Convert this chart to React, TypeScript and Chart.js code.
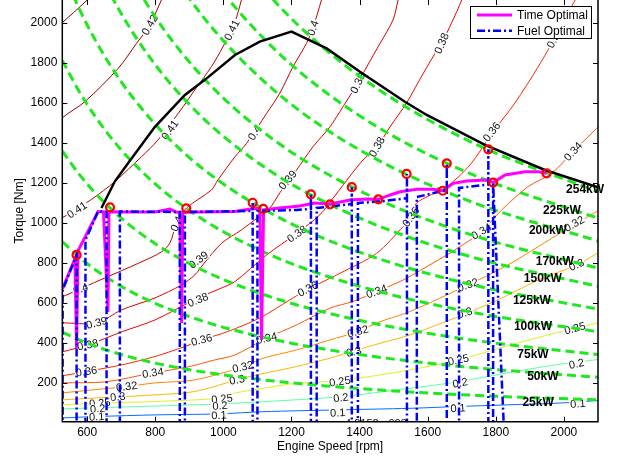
import { useEffect, useRef } from "react";
import { Chart, registerables } from "chart.js";

Chart.register(...registerables);

type Pt = [number, number];

const FONT = '"Liberation Sans", Arial, Helvetica, sans-serif';

const xTicks = [600, 800, 1000, 1200, 1400, 1600, 1800, 2000];
const yTicks = [200, 400, 600, 800, 1000, 1200, 1400, 1600, 1800, 2000];

// Max torque curve [rpm, Nm]
const maxTorqueCurve: Pt[] = [
  [642, 1074], [681, 1206], [720, 1297], [799, 1480], [887, 1639], [951, 1722],
  [1034, 1839], [1107, 1906], [1200, 1956], [1303, 1872], [1401, 1755], [1533, 1605],
  [1597, 1539], [1768, 1389], [1944, 1264], [2100, 1177],
];

// Time optimal trajectory
const timeOptimal: Pt[] = [
  [527, 668], [564, 819], [569, 374], [573, 859], [632, 1056], [648, 1054], [661, 554],
  [664, 1054], [799, 1054], [843, 1069], [860, 1054], [872, 1052], [877, 499], [881, 1052],
  [1034, 1056], [1092, 1072], [1107, 1069], [1112, 414], [1118, 1064], [1165, 1074],
  [1224, 1084], [1268, 1099], [1313, 1094], [1372, 1114], [1421, 1119], [1455, 1117],
  [1490, 1139], [1519, 1155], [1568, 1167], [1616, 1167], [1644, 1160], [1675, 1197],
  [1714, 1209], [1773, 1214], [1792, 1201], [1827, 1239], [1886, 1255], [1925, 1255],
  [1949, 1247],
];

// Fuel optimal trajectory
const fuelOptimal: Pt[] = [
  [528, -40], [528, 664], [569, 839], [569, -40], [595, -40], [595, 914], [632, 1056],
  [657, 1056], [657, -40], [696, -40], [696, 1056], [872, 1054], [872, -40], [887, -40],
  [887, 1054], [1086, 1059], [1086, 1099], [1086, -40], [1100, -40], [1100, 1059],
  [1215, 1064], [1257, 1069], [1257, 1142], [1257, -40], [1274, -40], [1274, 1074],
  [1313, 1081], [1377, 1094], [1377, 1178], [1377, -40], [1395, -40], [1395, 1099],
  [1460, 1106], [1539, 1123], [1539, 1244], [1539, -40], [1568, -40], [1568, 1129],
  [1646, 1160], [1656, 1164], [1656, 1297], [1656, -40], [1692, -40], [1692, 1174],
  [1778, 1191], [1778, 1367], [1778, -40], [1792, -40], [1792, 1199], [1824, -40],
];

// Shift points (red circles)
const shiftPoints: Pt[] = [
  [569, 839], [667, 1077], [891, 1072], [1086, 1100], [1117, 1069], [1257, 1142],
  [1313, 1092], [1377, 1178], [1455, 1117], [1538, 1244], [1644, 1160], [1656, 1297],
  [1778, 1367], [1792, 1201], [1949, 1247],
];

// Constant power lines
const powerRpm = [527, 575, 625, 700, 800, 900, 1000, 1150, 1300, 1500, 1750, 2100];
const power254 = [4602, 4218, 3881, 3465, 3032, 2695, 2425, 2109, 1866, 1617, 1386, 1155];
const power225 = [4077, 3737, 3438, 3069, 2686, 2387, 2149, 1868, 1653, 1432, 1228, 1023];
const power200 = [3624, 3321, 3056, 2728, 2387, 2122, 1910, 1661, 1469, 1273, 1091, 909];
const power170 = [3080, 2823, 2597, 2319, 2029, 1804, 1623, 1412, 1249, 1082, 928, 773];
const power150 = [2718, 2491, 2292, 2046, 1790, 1592, 1432, 1245, 1102, 955, 819, 682];
const power125 = [2265, 2076, 1910, 1705, 1492, 1326, 1194, 1038, 918, 796, 682, 568];
const power100 = [1812, 1661, 1528, 1364, 1194, 1061, 955, 830, 735, 637, 546, 455];
const power75 = [1359, 1246, 1146, 1023, 895, 796, 716, 623, 551, 477, 409, 341];
const power50 = [906, 830, 764, 682, 597, 531, 477, 415, 367, 318, 273, 227];
const power25 = [453, 415, 382, 341, 298, 265, 239, 208, 184, 159, 136, 114];
const powerLines = [power254, power225, power200, power170, power150, power125, power100, power75, power50, power25];

const powerLabels: [string, number, number][] = [
  ["254kW", 2062, 1164], ["225kW", 1994, 1059], ["200kW", 1953, 959], ["170kW", 1973, 804],
  ["150kW", 1938, 719], ["125kW", 1906, 609], ["100kW", 1909, 479], ["75kW", 1909, 339],
  ["50kW", 1938, 229], ["25kW", 1924, 99],
];

// Efficiency contours [rpm, Nm]
const eff043: Pt[] = [[520, 1990], [600, 2114], [615, 2150]];
const eff042: Pt[] = [[520, 1490], [525, 1522], [593, 1605], [691, 1772], [745, 1897], [784, 1989], [818, 2114], [830, 2160]];
const eff041: Pt[] = [[515, 1018], [526, 1024], [613, 1117], [681, 1206], [760, 1331], [808, 1414], [882, 1581], [916, 1664], [965, 1781], [999, 1881], [1034, 2005], [1053, 2114], [1060, 2160]];
const eff040: Pt[] = [[515, 622], [526, 629], [652, 724], [750, 797], [819, 855], [843, 899], [863, 999], [892, 1074], [965, 1164], [984, 1214], [1034, 1330], [1068, 1397], [1127, 1547], [1166, 1649], [1204, 1779], [1244, 1897], [1263, 1974], [1288, 2114], [1296, 2160]];
const eff039: Pt[] = [[515, 495], [526, 499], [628, 499], [701, 564], [799, 624], [877, 689], [916, 739], [940, 790], [995, 898], [1053, 964], [1092, 1014], [1132, 1064], [1166, 1150], [1215, 1264], [1263, 1380], [1313, 1480], [1351, 1580], [1395, 1699], [1421, 1780], [1460, 1897], [1498, 2014], [1513, 2114], [1520, 2160]];
const eff038: Pt[] = [[515, 350], [526, 354], [602, 389], [701, 454], [799, 514], [926, 624], [995, 674], [1034, 706], [1127, 839], [1215, 947], [1283, 1039], [1327, 1134], [1372, 1234], [1410, 1314], [1451, 1379], [1489, 1479], [1538, 1599], [1571, 1699], [1615, 1829], [1641, 1899], [1670, 1999], [1700, 2114], [1710, 2160]];
const eff036: Pt[] = [[515, 228], [526, 234], [598, 256], [701, 289], [799, 331], [887, 381], [936, 414], [1013, 456], [1107, 524], [1195, 614], [1244, 664], [1342, 747], [1450, 847], [1528, 981], [1551, 1024], [1567, 1098], [1656, 1181], [1724, 1289], [1790, 1450], [1856, 1599], [1924, 1779], [1964, 1897], [2033, 2114], [2050, 2160]];
const eff034: Pt[] = [[515, 195], [526, 199], [652, 204], [793, 249], [896, 279], [975, 314], [1034, 339], [1127, 423], [1215, 489], [1313, 573], [1380, 606], [1450, 656], [1528, 714], [1631, 814], [1680, 864], [1758, 956], [1817, 1064], [1895, 1181], [1964, 1247], [2027, 1356], [2096, 1472], [2110, 1495]];
const eff032: Pt[] = [[515, 146], [526, 149], [716, 181], [799, 199], [916, 214], [1057, 279], [1116, 322], [1215, 364], [1313, 414], [1395, 456], [1460, 505], [1548, 556], [1718, 689], [1827, 781], [1925, 881], [2000, 960], [2110, 1070]];
const eff030: Pt[] = [[515, 110], [526, 114], [686, 129], [799, 139], [916, 156], [1039, 214], [1097, 239], [1215, 281], [1313, 323], [1377, 356], [1460, 397], [1548, 439], [1714, 547], [1827, 631], [1925, 714], [2037, 789], [2110, 860]];
const eff025: Pt[] = [[515, 86], [526, 89], [637, 98], [799, 106], [990, 123], [1034, 148], [1116, 172], [1215, 197], [1342, 210], [1460, 239], [1548, 264], [1690, 314], [1827, 381], [1974, 448], [2110, 503]];
const eff020: Pt[] = [[515, 67], [526, 69], [813, 84], [990, 94], [1116, 105], [1342, 130], [1548, 172], [1690, 205], [1827, 247], [1974, 289], [2110, 318]];
const eff010: Pt[] = [[515, 23], [526, 24], [632, 31], [799, 39], [984, 44], [1116, 55], [1333, 64], [1548, 72], [1690, 81], [1827, 89], [1974, 97], [2110, 112]];

const contourLevels = [0.43, 0.42, 0.41, 0.4, 0.39, 0.38, 0.36, 0.34, 0.32, 0.3, 0.25, 0.2, 0.1];
const contourLines = [eff043, eff042, eff041, eff040, eff039, eff038, eff036, eff034, eff032, eff030, eff025, eff020, eff010];
const contourColors = [
  "rgb(128,0,0)", "rgb(151,0,0)", "rgb(175,0,0)", "rgb(199,0,0)", "rgb(222,0,0)", "rgb(246,0,0)",
  "rgb(255,38,0)", "rgb(255,86,0)", "rgb(255,133,0)", "rgb(255,181,0)", "rgb(222,240,30)",
  "rgb(92,255,163)", "rgb(0,110,255)",
];

// Contour labels: text, rpm, Nm, angle (deg)
const contourLabels: [string, number, number, number][] = [
  ["0.42", 784, 1989, -60], ["0.41", 570, 1064, -33], ["0.41", 843, 1464, -55], ["0.41", 1025, 1964, -63],
  ["0.4", 581, 669, -20], ["0.4", 863, 994, -65], ["0.4", 1092, 1449, -57], ["0.4", 1263, 1974, -70],
  ["0.39", 628, 499, -15], ["0.39", 927, 814, -38], ["0.39", 1189, 1214, -50], ["0.39", 1395, 1699, -65],
  ["0.38", 602, 389, -12], ["0.38", 925, 614, -22], ["0.38", 1216, 944, -35], ["0.38", 1451, 1379, -60], ["0.38", 1641, 1897, -67],
  ["0.36", 598, 256, -8], ["0.36", 936, 414, -15], ["0.36", 1248, 669, -27], ["0.36", 1551, 1029, -55], ["0.36", 1788, 1454, -52], ["0.36", 1973, 1924, -62],
  ["0.34", 793, 249, -8], ["0.34", 1127, 422, -12], ["0.34", 1450, 656, -20], ["0.34", 1758, 956, -30], ["0.34", 2027, 1356, -47],
  ["0.32", 716, 181, -7], ["0.32", 1057, 279, -13], ["0.32", 1395, 456, -15], ["0.32", 1718, 689, -20], ["0.32", 2030, 994, -30],
  ["0.3", 690, 129, -6], ["0.3", 1040, 214, -10], ["0.3", 1383, 354, -12], ["0.3", 1709, 549, -17], ["0.3", 2037, 789, -25],
  ["0.25", 637, 98, -5], ["0.25", 996, 119, -6], ["0.25", 1342, 206, -8], ["0.25", 1690, 314, -12], ["0.25", 2032, 472, -15],
  ["0.2", 631, 69, -4], ["0.2", 990, 84, -5], ["0.2", 1345, 124, -7], ["0.2", 1695, 199, -10], ["0.2", 2037, 294, -12],
  ["0.1", 628, 30, -3], ["0.1", 987, 37, -3], ["0.1", 1336, 49, -3], ["0.1", 1689, 72, -4], ["0.1", 2041, 94, -5],
  ["4.2152e-008", 1448, -5, 0],
];

const X_MIN = 527, X_MAX = 2100, Y_MIN = 5, Y_MAX = 2114;

export default function App() {
  const ref = useRef<HTMLCanvasElement>(null);

  useEffect(() => {
    const canvas = ref.current;
    if (!canvas) return;
    const pts = (p: Pt[]) => p.map(([x, y]) => ({ x, y }));

    const contourSets = contourLines.map((line, i) => ({
      label: "eta " + contourLevels[i],
      data: pts(line),
      borderColor: contourColors[i],
      borderWidth: 1,
      pointRadius: 0,
      tension: 0.3,
      fill: false,
      order: 50,
      clip: 0,
    }));

    const powerSets = powerLines.map((vals, i) => ({
      label: powerLabels[i][0],
      data: powerRpm.map((r, j) => ({ x: r, y: vals[j] })),
      borderColor: "#1ee81e",
      borderWidth: 3,
      borderDash: [9, 5],
      pointRadius: 0,
      cubicInterpolationMode: "monotone" as const,
      fill: false,
      order: 40,
      clip: 0,
    }));

    const decor = {
      id: "mapDecor",
      afterDatasetDraw(chart: any, args: any) {
        if (args.index !== 0) return;
        const { ctx, chartArea: a, scales } = chart;
        const xs = scales.x, ys = scales.y;
        ctx.save();
        ctx.beginPath();
        ctx.rect(a.left, a.top, a.right - a.left, a.bottom - a.top);
        ctx.clip();
        ctx.font = "11px " + FONT;
        ctx.textAlign = "center";
        ctx.textBaseline = "middle";
        for (const [text, rpm, nm, ang] of contourLabels) {
          const px = xs.getPixelForValue(rpm);
          const py = ys.getPixelForValue(nm);
          ctx.save();
          ctx.translate(px, py);
          ctx.rotate((ang * Math.PI) / 180);
          const w = ctx.measureText(text).width;
          ctx.fillStyle = "#fff";
          ctx.fillRect(-w / 2 - 1, -4.5, w + 2, 9);
          ctx.fillStyle = "#111";
          ctx.fillText(text, 0, 0.5);
          ctx.restore();
        }
        ctx.restore();
      },
      afterDatasetsDraw(chart: any) {
        const { ctx, chartArea: a, scales } = chart;
        const xs = scales.x, ys = scales.y;
        ctx.save();
        ctx.font = "bold 12px " + FONT;
        ctx.textAlign = "center";
        ctx.textBaseline = "middle";
        ctx.fillStyle = "#000";
        for (const [t, rpm, nm] of powerLabels) {
          ctx.fillText(t, xs.getPixelForValue(rpm), ys.getPixelForValue(nm));
        }
        ctx.strokeStyle = "#000";
        ctx.lineWidth = 1.5;
        ctx.beginPath();
        ctx.moveTo(a.left, a.top - 3);
        ctx.lineTo(a.left, a.bottom);
        ctx.lineTo(a.right, a.bottom);
        ctx.lineTo(a.right, a.top - 3);
        ctx.stroke();
        ctx.lineWidth = 1;
        ctx.beginPath();
        for (const v of xTicks) {
          const px = Math.round(xs.getPixelForValue(v)) + 0.5;
          ctx.moveTo(px, a.bottom);
          ctx.lineTo(px, a.bottom - 5);
          ctx.moveTo(px, a.top);
          ctx.lineTo(px, a.top + 5);
        }
        for (const v of yTicks) {
          const py = Math.round(ys.getPixelForValue(v)) + 0.5;
          ctx.moveTo(a.left, py);
          ctx.lineTo(a.left + 5, py);
          ctx.moveTo(a.right, py);
          ctx.lineTo(a.right - 5, py);
        }
        ctx.stroke();
        ctx.restore();
      },
      afterDraw(chart: any) {
        const { ctx, chartArea: a } = chart;
        const ds = chart.data.datasets;
        const time = ds.find((d: any) => d.label === "Time Optimal");
        const fuel = ds.find((d: any) => d.label === "Fuel Optimal");
        const lx = a.right - 128, ly = a.top + 6, lw = 122, lh = 33;
        ctx.save();
        ctx.fillStyle = "#fff";
        ctx.fillRect(lx, ly, lw, lh);
        ctx.strokeStyle = "#000";
        ctx.lineWidth = 1;
        ctx.strokeRect(lx + 0.5, ly + 0.5, lw - 1, lh - 1);
        [time, fuel].forEach((d: any, i: number) => {
          const yy = ly + 9 + i * 15.7;
          ctx.strokeStyle = d.borderColor;
          ctx.lineWidth = d.borderWidth;
          ctx.setLineDash(d.borderDash || []);
          ctx.beginPath();
          ctx.moveTo(lx + 7, yy);
          ctx.lineTo(lx + 42, yy);
          ctx.stroke();
          ctx.setLineDash([]);
          ctx.fillStyle = "#000";
          ctx.font = "12px " + FONT;
          ctx.textAlign = "left";
          ctx.textBaseline = "middle";
          ctx.fillText(d.label, lx + 47, yy + 0.5);
        });
        ctx.restore();
      },
    };

    const chart = new Chart(canvas, {
      type: "line",
      data: {
        datasets: [
          ...contourSets,
          ...powerSets,
          {
            label: "Max Torque",
            data: pts(maxTorqueCurve),
            borderColor: "#000",
            borderWidth: 2.5,
            pointRadius: 0,
            tension: 0,
            fill: false,
            order: 30,
            clip: 0,
          },
          {
            label: "Time Optimal",
            data: pts(timeOptimal),
            borderColor: "#ff00ff",
            borderWidth: 3,
            pointRadius: 0,
            tension: 0,
            fill: false,
            order: 20,
            clip: 0,
          },
          {
            label: "Fuel Optimal",
            data: pts(fuelOptimal),
            borderColor: "#0000ff",
            borderWidth: 2.5,
            borderDash: [8, 3, 2, 3],
            pointRadius: 0,
            tension: 0,
            fill: false,
            order: 10,
            clip: 0,
          },
          {
            label: "Shift points",
            data: pts(shiftPoints),
            showLine: false,
            pointRadius: 4,
            pointBorderWidth: 2.2,
            pointBorderColor: "#ff0000",
            pointBackgroundColor: "rgba(0,0,0,0)",
            order: 5,
            clip: 0,
          },
        ] as any,
      },
      options: {
        responsive: false,
        animation: false,
        devicePixelRatio: 1,
        layout: { autoPadding: false, padding: { left: 0, right: 26, top: 0, bottom: 0 } },
        plugins: { legend: { display: false }, tooltip: { enabled: false } },
        events: [],
        scales: {
          x: {
            type: "linear",
            min: X_MIN,
            max: X_MAX,
            afterBuildTicks: (s: any) => {
              s.ticks = xTicks.map((v) => ({ value: v }));
            },
            afterFit: (s: any) => {
              s.height = 39.3;
              s.paddingLeft = 0;
              s.paddingRight = 0;
            },
            grid: { display: false, drawTicks: false },
            border: { display: false },
            ticks: {
              color: "#000",
              font: { family: FONT, size: 12 },
              padding: 4,
              maxRotation: 0,
              autoSkip: false,
              callback: (v: any) => String(v),
            },
            title: {
              display: true,
              text: "Engine Speed [rpm]",
              color: "#000",
              font: { family: FONT, size: 12 },
              padding: { top: 0, bottom: 6.8 },
            },
          },
          y: {
            type: "linear",
            min: Y_MIN,
            max: Y_MAX,
            afterBuildTicks: (s: any) => {
              s.ticks = yTicks.map((v) => ({ value: v }));
            },
            afterFit: (s: any) => {
              s.width = 62.3;
              s.paddingTop = 0;
              s.paddingBottom = 0;
            },
            grid: { display: false, drawTicks: false },
            border: { display: false },
            ticks: {
              color: "#000",
              font: { family: FONT, size: 12 },
              padding: 5,
              autoSkip: false,
              callback: (v: any) => String(v),
            },
            title: {
              display: true,
              text: "Torque [Nm]",
              color: "#000",
              font: { family: FONT, size: 12 },
              padding: { top: 12.8, bottom: 0 },
            },
          },
        },
      } as any,
      plugins: [decor],
    });

    return () => chart.destroy();
  }, []);

  return (
    <div style={{ position: "fixed", left: 0, top: 0, width: 624, height: 461, background: "#fff" }}>
      <canvas ref={ref} width={624} height={461} style={{ display: "block" }} />
    </div>
  );
}
